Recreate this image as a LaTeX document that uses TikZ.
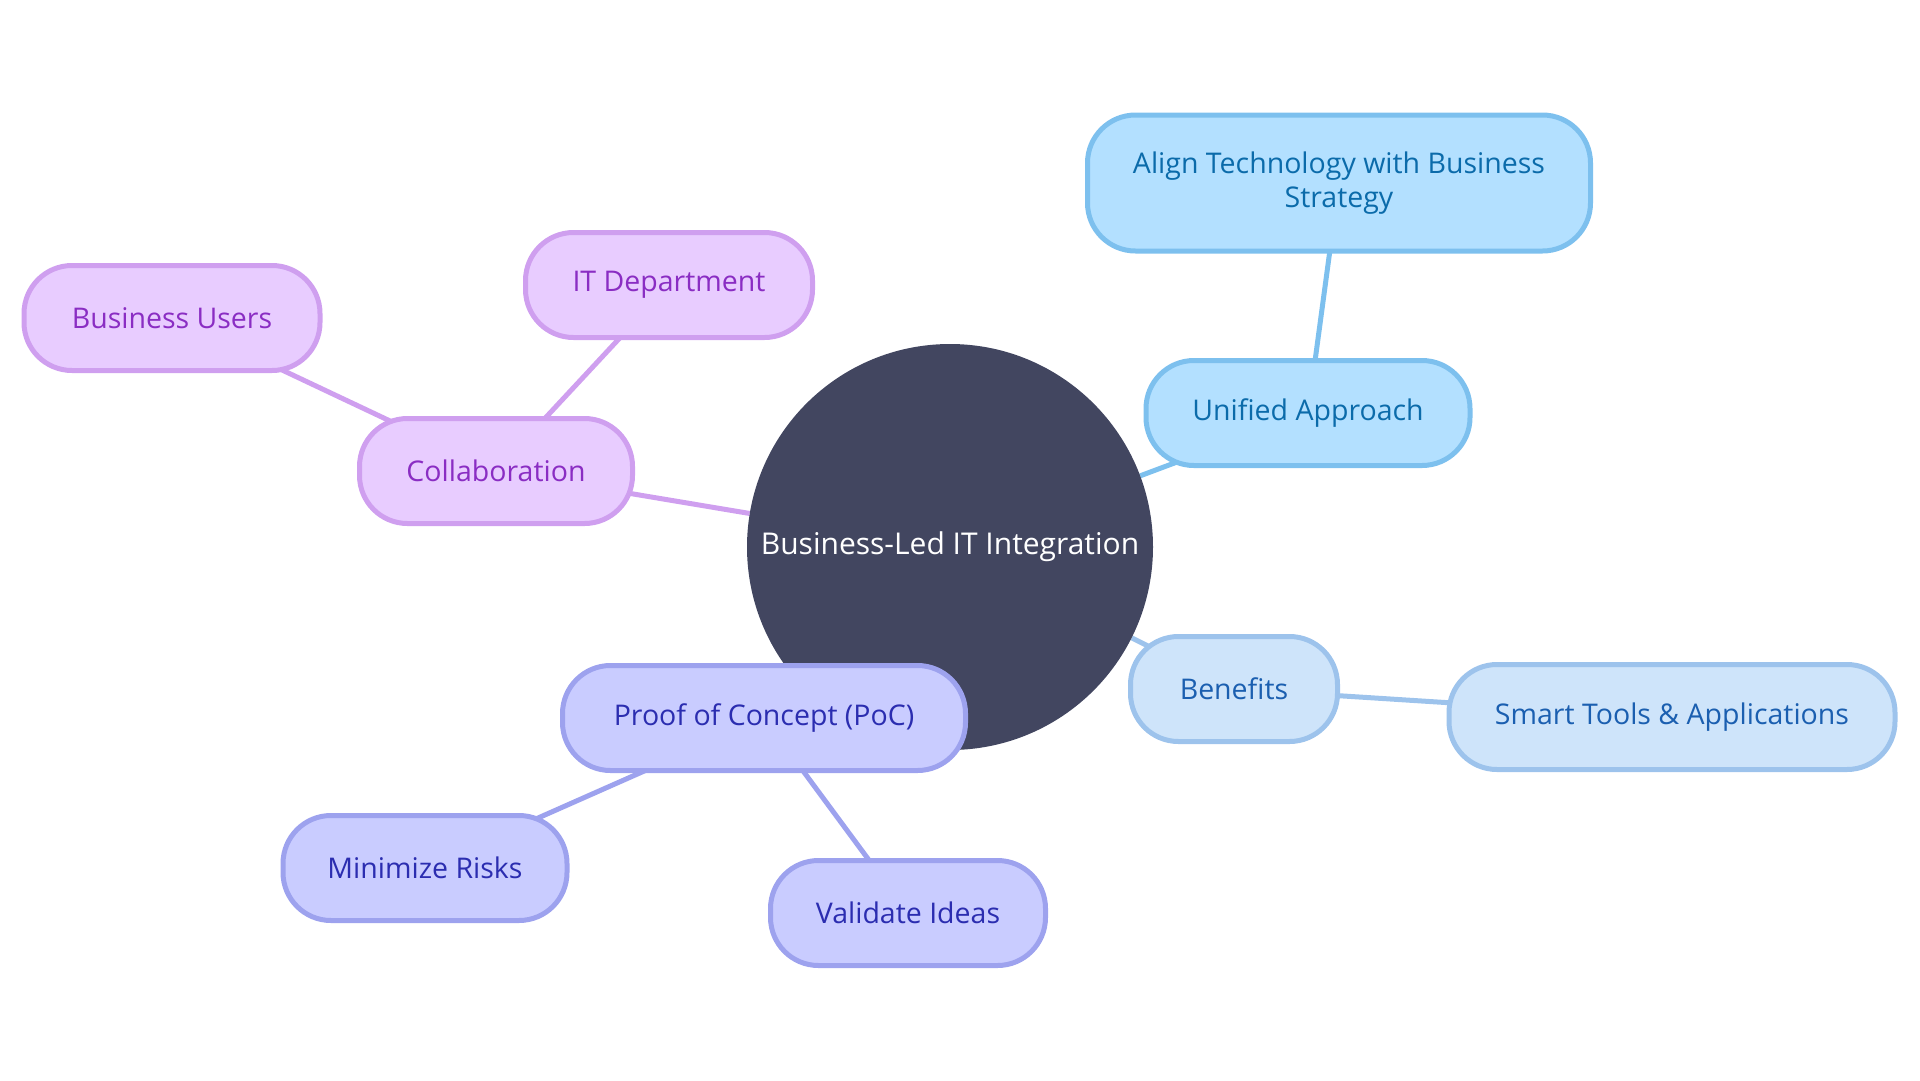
\documentclass[tikz,border=0pt]{standalone}
\usepackage{fontspec}
\setmainfont{Open Sans}
\usetikzlibrary{backgrounds}

\definecolor{rootfill}{HTML}{424660}
\definecolor{bluefill}{HTML}{B3E0FF}
\definecolor{blueline}{HTML}{7DC0EE}
\definecolor{bluetext}{HTML}{0B6BAA}
\definecolor{skyfill}{HTML}{CEE4FA}
\definecolor{skyline}{HTML}{9DC3EC}
\definecolor{skytext}{HTML}{1B5FB0}
\definecolor{lilacfill}{HTML}{E8CCFF}
\definecolor{lilacline}{HTML}{CF9FEF}
\definecolor{lilactext}{HTML}{8A2DC3}
\definecolor{indigofill}{HTML}{C9CCFF}
\definecolor{indigoline}{HTML}{9DA2EE}
\definecolor{indigotext}{HTML}{2B2DB0}

\tikzset{
  leaf/.style={rectangle, rounded corners=48pt, line width=5pt, minimum height=105pt,
               inner sep=0pt, align=center, font=\fontsize{28.5}{34}\selectfont},
  blueleaf/.style={leaf, draw=blueline, fill=bluefill, text=bluetext},
  skyleaf/.style={leaf, draw=skyline, fill=skyfill, text=skytext},
  lilacleaf/.style={leaf, draw=lilacline, fill=lilacfill, text=lilactext},
  indigoleaf/.style={leaf, draw=indigoline, fill=indigofill, text=indigotext},
  root/.style={circle, fill=rootfill, text=white, minimum size=406pt, inner sep=0pt,
               font=\fontsize{30}{36}\selectfont},
  link/.style={line width=5pt}
}

\begin{document}
\begin{tikzpicture}[x=1pt,y=-1pt]
\useasboundingbox (0,0) rectangle (1920,1080);

\node[root] (root) at (950,547) {Business-Led IT Integration};

\node[blueleaf, minimum width=324pt] (unified) at (1308,413) {Unified Approach};
\node[blueleaf, minimum width=503pt, minimum height=136pt] (align) at (1339,183)
  {Align Technology with Business\\Strategy};

\node[skyleaf, minimum width=207pt] (benefits) at (1234,689) {Benefits};
\node[skyleaf, minimum width=446pt] (smart) at (1672,717) {Smart Tools \& Applications};

\node[lilacleaf, minimum width=273pt] (collab) at (496,471) {Collaboration};
\node[lilacleaf, minimum width=296pt] (users) at (172,318) {Business Users};
\node[lilacleaf, minimum width=287pt] (itdept) at (669,285) {IT Department};

\node[indigoleaf, minimum width=403pt] (poc) at (764,718) {Proof of Concept (PoC)};
\node[indigoleaf, minimum width=284pt] (risks) at (425,868) {Minimize Risks};
\node[indigoleaf, minimum width=275pt] (ideas) at (908,913) {Validate Ideas};

\begin{scope}[on background layer]
\draw[link, blueline] (root) -- (unified.center);
\draw[link, blueline] (unified.center) -- (align.center);
\draw[link, skyline] (root) -- (benefits.center);
\draw[link, skyline] (benefits.center) -- (smart.center);
\draw[link, lilacline] (root) -- (collab.center);
\draw[link, lilacline] (collab.center) -- (users.center);
\draw[link, lilacline] (collab.center) -- (itdept.center);
\draw[link, indigoline] (root) -- (poc.center);
\draw[link, indigoline] (poc.center) -- (risks.center);
\draw[link, indigoline] (poc.center) -- (ideas.center);
\end{scope}

\end{tikzpicture}
\end{document}
